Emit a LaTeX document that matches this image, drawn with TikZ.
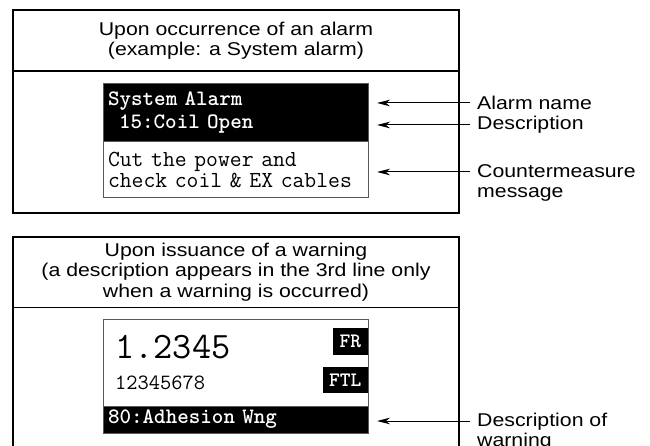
\documentclass[tikz,border=0pt]{standalone}
\usepackage{fontspec}
\usetikzlibrary{positioning,arrows.meta}
\newfontfamily\lblfont[FakeStretch=1.15]{Liberation Sans}
\tikzset{
  frame/.style={draw, line width=1.1pt, minimum width=446pt, anchor=north west, inner sep=0pt, outer sep=0pt},
  heading/.style={anchor=north, minimum height=#1, align=center, inner sep=0pt, font=\lblfont\fontsize{18.5}{20.5}\selectfont},
  divider/.style={line width=1.8pt},
  lcdbar/.style={draw=black!65, fill=black, text=white, line width=1pt, minimum width=265pt, text width=255pt, inner xsep=5pt, inner ysep=0pt, outer sep=0pt, align=left, font=\ttfamily\bfseries\fontsize{22}{23}\selectfont},
  lcdbody/.style={draw=black!65, fill=white, line width=1pt, minimum width=265pt, text width=255pt, inner xsep=5pt, inner ysep=0pt, outer sep=0pt, align=left, font=\ttfamily\fontsize{23}{21}\selectfont},
  tag/.style={fill=black, text=white, inner sep=0pt, anchor=north east, font=\ttfamily\bfseries\fontsize{20.5}{20.5}\selectfont},
  callout/.style={anchor=west, inner xsep=7pt, inner ysep=0pt, align=left, font=\lblfont\fontsize{18.5}{20}\selectfont},
  pointer/.style={line width=1pt, -{Stealth[length=13pt, width=6.5pt, inset=4pt]}, shorten >=9pt}
}
\begin{document}
\begin{tikzpicture}[x=1pt, y=-1pt]
\clip (0,0) rectangle (650,446);
\node[frame, minimum height=203pt] (alarmframe) at (13,10) {};
\node[heading=61pt] (alarmtitle) at (alarmframe.north) {Upon occurrence of an alarm\\(example: a System alarm)};
\draw[divider] (alarmtitle.south -| alarmframe.west) -- (alarmtitle.south -| alarmframe.east);
\node[lcdbar, minimum height=58pt, anchor=north west] (alarmbar) at (103,84) {System Alarm\\\hspace*{.5em}15:Coil Open};
\node[lcdbody, minimum height=56pt, below=0pt of alarmbar] (alarmmsg) {Cut the power and\\check coil \& EX cables};
\node[callout] (namelbl) at (470,103) {Alarm name};
\node[callout] (desclbl) at (470,125) {Description};
\node[callout] (msglbl) at (470,183) {Countermeasure\\message};
\draw[pointer] (namelbl.west) -- (namelbl.west -| alarmbar.east);
\draw[pointer] (desclbl.west) -- (desclbl.west -| alarmbar.east);
\draw[pointer] ([yshift=11pt]msglbl.west) -- ([yshift=11pt]msglbl.west -| alarmmsg.east);
\node[frame, minimum height=260pt] (warnframe) at (13,237) {};
\node[heading=70pt] (warntitle) at (warnframe.north) {Upon issuance of a warning\\(a description appears in the 3rd line only\\when a warning is occurred)};
\draw[divider] (warntitle.south -| warnframe.west) -- (warntitle.south -| warnframe.east);
\node[lcdbody, minimum height=87pt, anchor=north west] (warnbody) at (103,319) {};
\node[lcdbar, minimum height=27pt, below=0pt of warnbody] (warnbar) {80:Adhesion Wng};
\node[anchor=west, inner sep=0pt, font=\ttfamily\fontsize{37.3}{37.3}\selectfont] (rate) at (115,347) {1.2345};
\node[anchor=west, inner sep=0pt, font=\ttfamily\fontsize{21.8}{21.8}\selectfont] (total) at (115,383) {12345678};
\node[tag, minimum width=35pt, minimum height=27pt] (frtag) at ([yshift=-9pt]warnbody.north east) {FR};
\node[tag, minimum width=45pt, minimum height=26pt] (ftltag) at ([yshift=-48pt]warnbody.north east) {FTL};
\node[callout] (warnlbl) at (470,432) {Description of\\warning};
\draw[pointer] ([yshift=11pt]warnlbl.west) -- ([yshift=11pt]warnlbl.west -| warnbar.east);
\end{tikzpicture}
\end{document}
